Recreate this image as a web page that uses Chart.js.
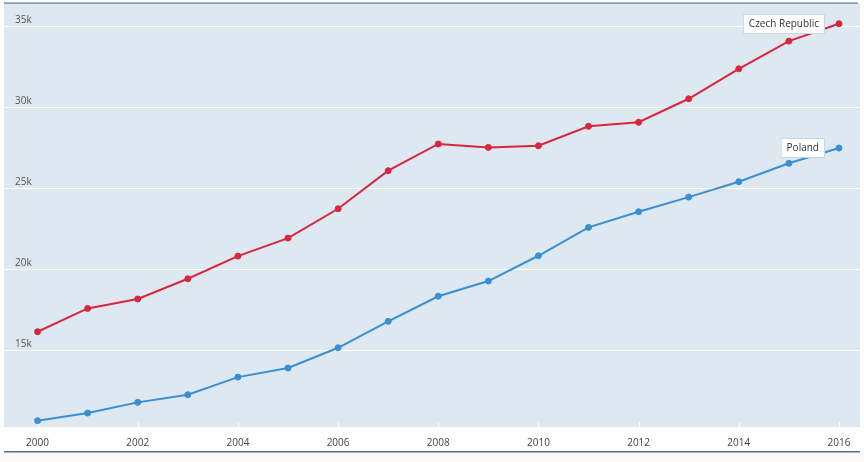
<!DOCTYPE html>
<html>
<head>
<meta charset="utf-8">
<script src="https://cdn.jsdelivr.net/npm/chart.js@4"></script>
<style>
  body { margin: 0; background: #fff; }
  canvas { display: block; }
</style>
</head>
<body>
<canvas id="chart" width="864" height="462"></canvas>
<script>
const years = [2000, 2001, 2002, 2003, 2004, 2005, 2006, 2007, 2008, 2009, 2010, 2011, 2012, 2013, 2014, 2015, 2016];
const czech = [16130, 17570, 18150, 19400, 20800, 21910, 23720, 26070, 27720, 27510, 27610, 28810, 29060, 30510, 32360, 34070, 35140];
const poland = [10640, 11110, 11770, 12240, 13330, 13890, 15140, 16770, 18320, 19260, 20820, 22570, 23540, 24440, 25390, 26530, 27470];
const seriesNames = ["Czech Republic", "Poland"];
const yTicks = [15000, 20000, 25000, 30000, 35000];

const ctx = document.getElementById("chart").getContext("2d");
const FONT = "'Open Sans', 'DejaVu Sans', sans-serif";

// plot background, frame lines and the little white tick marks
const frame = {
  id: "frame",
  beforeDraw(chart) {
    const { ctx, chartArea: a } = chart;
    ctx.save();
    ctx.fillStyle = "#dde8f1";
    ctx.fillRect(a.left, a.top, a.right - a.left, a.bottom - a.top);
    ctx.fillStyle = "#fbf8f8";
    ctx.fillRect(0, 453, chart.width, chart.height - 453);
    ctx.fillStyle = "#4f6f8f";
    ctx.fillRect(a.left, 2.5, a.right - a.left - 2, 1.2);
    ctx.fillRect(a.left, 451, a.right - a.left, 1.5);
    ctx.restore();
  },
  beforeDatasetsDraw(chart) {
    const { ctx, chartArea: a, scales } = chart;
    ctx.save();
    ctx.strokeStyle = "#ffffff";
    ctx.lineWidth = 1;
    scales.x.ticks.forEach(t => {
      const x = Math.round(scales.x.getPixelForValue(t.value)) + 0.5;
      ctx.beginPath();
      ctx.moveTo(x, a.bottom - 5);
      ctx.lineTo(x, a.bottom);
      ctx.stroke();
    });
    ctx.restore();
  }
};

// name boxes next to the last point of each line
const endLabels = {
  id: "endLabels",
  afterDatasetsDraw(chart) {
    const { ctx } = chart;
    ctx.save();
    ctx.font = "10px " + FONT;
    chart.data.datasets.forEach((ds, i) => {
      const pts = chart.getDatasetMeta(i).data;
      const p = pts[pts.length - 1];
      const w = ctx.measureText(ds.label).width + 12;
      const h = 20;
      const right = p.x - 14;
      const left = right - w;
      const top = Math.round(p.y - h / 2);
      ctx.fillStyle = "#ffffff";
      ctx.strokeStyle = "#c8d6e2";
      ctx.lineWidth = 1;
      ctx.fillRect(left, top, w, h);
      ctx.strokeRect(left + 0.5, top + 0.5, w - 1, h - 1);
      ctx.fillStyle = "#333333";
      ctx.textAlign = "center";
      ctx.textBaseline = "middle";
      ctx.fillText(ds.label, left + w / 2, top + h / 2);
    });
    ctx.restore();
  }
};

new Chart(ctx, {
  type: "line",
  data: {
    datasets: [
      {
        label: seriesNames[0],
        data: years.map((y, i) => ({ x: y, y: czech[i] })),
        borderColor: "#d7263d",
        backgroundColor: "#d7263d",
      },
      {
        label: seriesNames[1],
        data: years.map((y, i) => ({ x: y, y: poland[i] })),
        borderColor: "#3a8fd3",
        backgroundColor: "#3a8fd3",
      },
    ],
  },
  options: {
    responsive: false,
    devicePixelRatio: 1,
    animation: false,
    layout: { padding: { left: 4, right: 2, top: 4, bottom: 15 } },
    elements: {
      line: { borderWidth: 2, tension: 0 },
      point: { radius: 3, borderWidth: 1, borderColor: "#ffffff", hoverRadius: 3 },
    },
    plugins: {
      legend: { display: false },
      tooltip: { enabled: false },
    },
    scales: {
      x: {
        type: "linear",
        min: 1999.33,
        max: 2016.42,
        border: { display: false },
        grid: { display: false, drawTicks: false },
        afterBuildTicks: (axis) => {
          axis.ticks = years.filter(y => y % 2 === 0).map(v => ({ value: v }));
        },
        afterFit: (axis) => {
          axis.height = 20;
          axis.paddingLeft = 0;
          axis.paddingRight = 0;
        },
        ticks: {
          padding: 10,
          color: "#444",
          font: { family: FONT, size: 10 },
          callback: (v) => String(v),
          maxRotation: 0,
          autoSkip: false,
        },
      },
      y: {
        min: 10250,
        max: 36360,
        border: { display: false },
        grid: { color: "#ffffff", lineWidth: 1, drawTicks: false },
        afterBuildTicks: (axis) => {
          axis.ticks = yTicks.map(v => ({ value: v }));
        },
        afterFit: (axis) => {
          axis.width = 0;
          axis.paddingTop = 0;
          axis.paddingBottom = 0;
        },
        ticks: {
          mirror: true,
          padding: 11,
          labelOffset: -6,
          color: "#555",
          font: { family: FONT, size: 10 },
          callback: (v) => v / 1000 + "k",
        },
      },
    },
  },
  plugins: [frame, endLabels],
});
</script>
</body>
</html>
